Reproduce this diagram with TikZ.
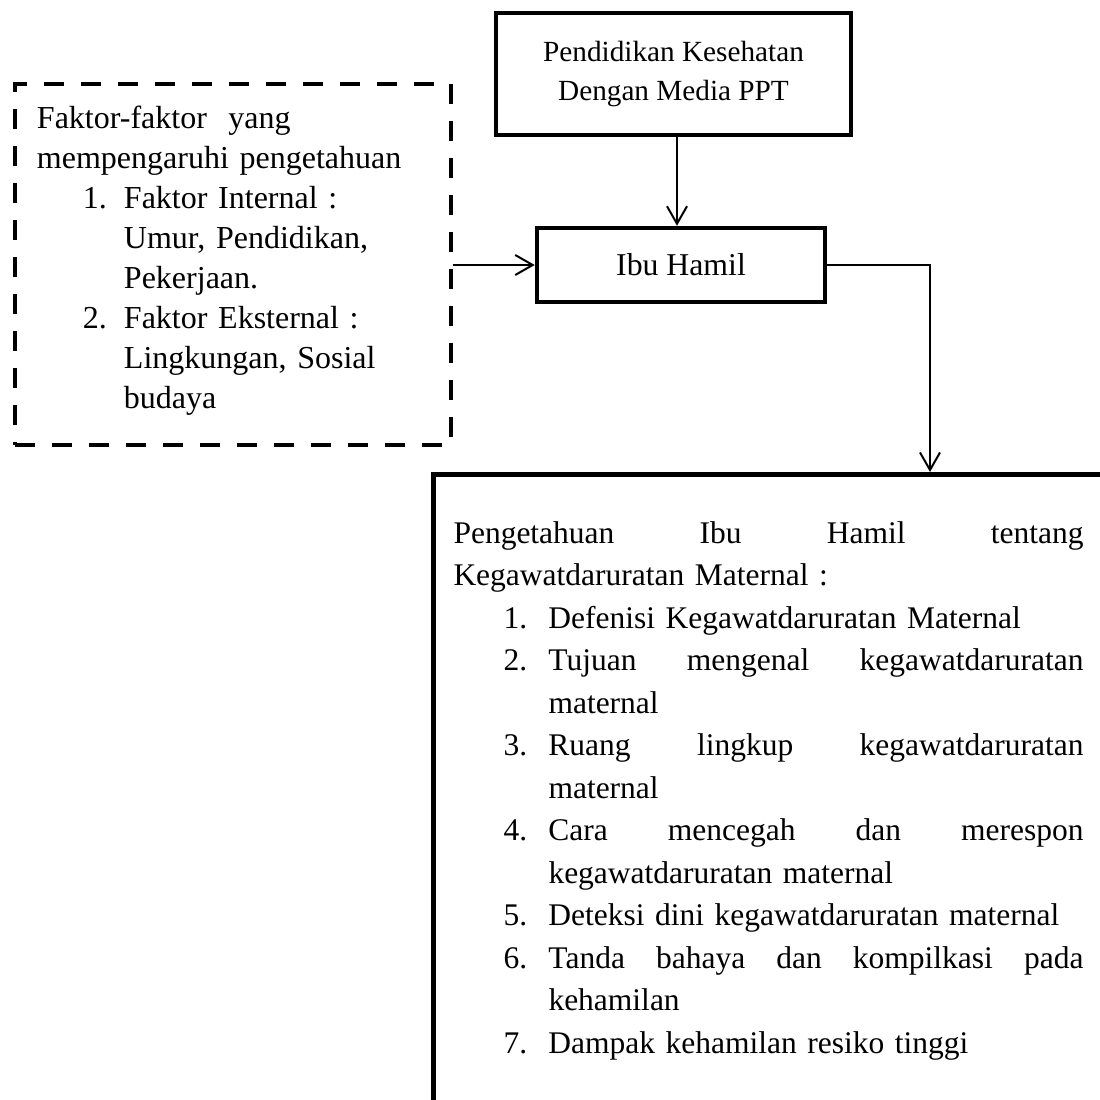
\documentclass[tikz,border=0pt]{standalone}
\usepackage{fontspec}
\setmainfont{Liberation Serif}
\usetikzlibrary{arrows.meta,positioning}
\tikzset{box/.style={draw,line width=1.8pt,inner sep=0pt,align=center,
    font=\fontsize{11.7}{15.6}\selectfont},
  dashbox/.style={draw,line width=1.6pt,dash pattern=on 8pt off 6.8pt,
    inner ysep=0pt,inner xsep=8.8pt,align=left,font=\fontsize{12.8}{16}\selectfont},
  listtext/.style={inner sep=0pt,align=left,font=\fontsize{12.6}{17}\selectfont},
  conn/.style={draw,line width=0.8pt,-{Straight Barb[length=7pt,width=8pt]}}}
\newcommand{\fitem}[2]{\hspace*{18.4pt}\makebox[16.4pt][l]{#1}#2}
\newcommand{\kitem}[2]{\hspace*{20pt}\makebox[18pt][l]{#1}#2}

\begin{document}
\begin{tikzpicture}[x=0.4pt,y=-0.4pt]
  \useasboundingbox (0,0) rectangle (1100,1100);
  \clip (0,0) rectangle (1100,1100);

  % the boxes
  \node[box,minimum width=142pt,minimum height=48.8pt] (media) at (673.5,74)
    {Pendidikan Kesehatan\\Dengan Media PPT};
  \node[box,minimum width=115.2pt,minimum height=29.6pt,
    font=\fontsize{12.7}{15}\selectfont] (ibu) at (681,265) {Ibu Hamil};
  \node[dashbox,text width=156.8pt,minimum height=144.4pt] (faktor) at (233,264.5)
    {Faktor-faktor~ yang\\
     mempengaruhi pengetahuan\\
     \fitem{1.}{Faktor Internal :}\\
     \hspace*{34.8pt}Umur, Pendidikan,\\
     \hspace*{34.8pt}Pekerjaan.\\
     \fitem{2.}{Faktor Eksternal :}\\
     \hspace*{34.8pt}Lingkungan, Sosial\\
     \hspace*{34.8pt}budaya\rule[-6pt]{0pt}{0pt}};
  \node[box,anchor=north west,minimum width=320pt,minimum height=320pt] (know)
    at (431,472) {};
  \node[listtext,anchor=north west,text width=252pt] (knowtext) at (453,521)
    {Pengetahuan\hfill Ibu\hfill Hamil\hfill tentang\\
     Kegawatdaruratan Maternal :\\
     \kitem{1.}{Defenisi Kegawatdaruratan Maternal}\\
     \kitem{2.}{Tujuan\hfill mengenal\hfill kegawatdaruratan}\\
     \hspace*{38pt}maternal\\
     \kitem{3.}{Ruang\hfill lingkup\hfill kegawatdaruratan}\\
     \hspace*{38pt}maternal\\
     \kitem{4.}{Cara\hfill mencegah\hfill dan\hfill merespon}\\
     \hspace*{38pt}kegawatdaruratan maternal\\
     \kitem{5.}{Deteksi dini kegawatdaruratan maternal}\\
     \kitem{6.}{Tanda\hfill bahaya\hfill dan\hfill kompilkasi\hfill pada}\\
     \hspace*{38pt}kehamilan\\
     \kitem{7.}{Dampak kehamilan resiko tinggi}};

  % connectors
  \coordinate (mid) at (677,0);
  \coordinate (bend) at (930,265);
  \draw[conn] (mid |- media.south) -- (mid |- ibu.north);
  \draw[conn] (faktor.east |- ibu.west) -- (ibu.west);
  \draw[conn] (ibu.east) -| (bend |- know.north);

\end{tikzpicture}
\end{document}
